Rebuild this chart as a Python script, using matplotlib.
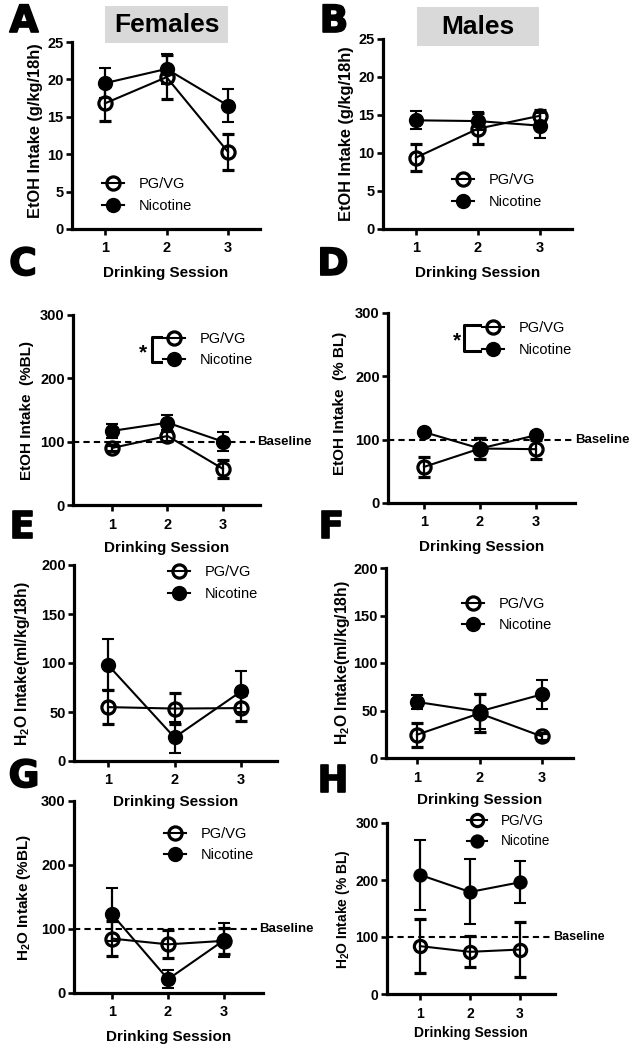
import matplotlib
matplotlib.use('Agg')
import matplotlib.pyplot as plt
from matplotlib.lines import Line2D
from matplotlib.patches import Rectangle
import matplotlib.patheffects as pe

plt.rcParams['font.family'] = ['Liberation Sans', 'DejaVu Sans']
plt.rcParams['mathtext.default'] = 'regular'

sessions = [1, 2, 3]
series_names = ['PG/VG', 'Nicotine']

# Panel A - Females EtOH g/kg/18h
a_pg = [16.8, 20.3, 10.3]
a_pg_sem = [2.3, 2.9, 2.4]
a_nic = [19.5, 21.4, 16.5]
a_nic_sem = [2.0, 2.0, 2.25]
# Panel B - Males EtOH g/kg/18h
b_pg = [9.4, 13.2, 14.9]
b_pg_sem = [1.8, 2.0, 0.8]
b_nic = [14.3, 14.2, 13.6]
b_nic_sem = [1.2, 1.2, 1.6]
# Panel C - Females EtOH %BL
c_pg = [90, 109, 57]
c_pg_sem = [5, 8, 14]
c_nic = [117, 130, 100]
c_nic_sem = [11, 12, 15]
# Panel D - Males EtOH %BL
d_pg = [57, 86, 85]
d_pg_sem = [16, 17, 15]
d_nic = [112, 86, 107]
d_nic_sem = [4, 17, 5]
# Panel E - Females H2O ml/kg/18h
e_pg = [55, 53.5, 54]
e_pg_sem = [17, 16, 13]
e_nic = [98, 24, 71]
e_nic_sem = [26, 16, 21]
# Panel F - Males H2O ml/kg/18h
f_pg = [24.5, 47, 22.7]
f_pg_sem = [12.5, 20, 4]
f_nic = [59, 49, 67]
f_nic_sem = [7, 18, 15]
# Panel G - Females H2O %BL
g_pg = [85, 76, 81.5]
g_pg_sem = [27, 22, 20]
g_nic = [123, 21.5, 82.5]
g_nic_sem = [41, 14, 27]
# Panel H - Males H2O %BL
h_pg = [84, 74, 78]
h_pg_sem = [48, 27, 49]
h_nic = [209, 179, 196]
h_nic_sem = [61, 57, 37]

baseline_value = 100

W, H = 639, 1050
fig = plt.figure(figsize=(W / 100, H / 100), dpi=100)


def fx(px):
    return px / W


def fy(py):
    return 1 - py / H


panels = [
    dict(letter='A', rect=(72, 42, 260, 229), xlim=(0.463, 3.52), ylim=(0, 25),
         yticks=[0, 5, 10, 15, 20, 25], ylabel='EtOH Intake (g/kg/18h)', ylab=(36, 131),
         xlab_y=273, data=(a_pg, a_pg_sem, a_nic, a_nic_sem), leg=(113, 195), lpos=(24, 22),
         baseline=None, star=None, tfs=10.5, xfs=11, yfs=11.8, lfs=10.5, ms=9.5),
    dict(letter='B', rect=(383, 39, 572, 229), xlim=(0.468, 3.516), ylim=(0, 25),
         yticks=[0, 5, 10, 15, 20, 25], ylabel='EtOH Intake (g/kg/18h)', ylab=(347, 134),
         xlab_y=273, data=(b_pg, b_pg_sem, b_nic, b_nic_sem), leg=(463, 191), lpos=(334, 22),
         baseline=None, star=None, tfs=10.5, xfs=11, yfs=11.8, lfs=10.5, ms=9.5),
    dict(letter='C', rect=(73, 315, 260, 505), xlim=(0.297, 3.667), ylim=(0, 300),
         yticks=[0, 100, 200, 300], ylabel='EtOH Intake  (%BL)', ylab=(27, 411),
         xlab_y=548, data=(c_pg, c_pg_sem, c_nic, c_nic_sem), leg=(174, 349.5), lpos=(23, 265),
         baseline=(255, 257), star=(143, 152, 337, 362), tfs=10.5, xfs=11, yfs=11, lfs=10.5, ms=9.5),
    dict(letter='D', rect=(388, 313, 575, 503), xlim=(0.357, 3.696), ylim=(0, 300),
         yticks=[0, 100, 200, 300], ylabel='EtOH Intake  (% BL)', ylab=(340, 403),
         xlab_y=547, data=(d_pg, d_pg_sem, d_nic, d_nic_sem), leg=(493, 339), lpos=(333, 265),
         baseline=(572, 575), star=(457, 464, 325, 351), tfs=10.5, xfs=11, yfs=11, lfs=10.5, ms=9.5),
    dict(letter='E', rect=(74, 565, 277, 761), xlim=(0.489, 3.541), ylim=(0, 200),
         yticks=[0, 50, 100, 150, 200], ylabel='H$_2$O Intake(ml/kg/18h)', ylab=(23, 664),
         xlab_y=802, data=(e_pg, e_pg_sem, e_nic, e_nic_sem), leg=(179, 583), lpos=(22, 528),
         baseline=None, star=None, tfs=10.5, xfs=11, yfs=11.3, lfs=10.5, ms=9.5),
    dict(letter='F', rect=(386, 568, 573, 758), xlim=(0.504, 3.496), ylim=(0, 200),
         yticks=[0, 50, 100, 150, 200], ylabel='H$_2$O Intake(ml/kg/18h)', ylab=(343, 663),
         xlab_y=800, data=(f_pg, f_pg_sem, f_nic, f_nic_sem), leg=(473, 614.5), lpos=(331, 528),
         baseline=None, star=None, tfs=10.5, xfs=11, yfs=11.3, lfs=10.5, ms=9.5),
    dict(letter='G', rect=(74, 801, 263, 993), xlim=(0.321, 3.696), ylim=(0, 300),
         yticks=[0, 100, 200, 300], ylabel='H$_2$O Intake (%BL)', ylab=(24, 897),
         xlab_y=1037, data=(g_pg, g_pg_sem, g_nic, g_nic_sem), leg=(175, 844.5), lpos=(24, 777),
         baseline=(257, 259), star=None, tfs=10.5, xfs=11, yfs=11, lfs=10.5, ms=9.5),
    dict(letter='H', rect=(387, 823, 555, 994), xlim=(0.34, 3.7), ylim=(0, 300),
         yticks=[0, 100, 200, 300], ylabel='H$_2$O Intake (% BL)', ylab=(343, 909),
         xlab_y=1033, data=(h_pg, h_pg_sem, h_nic, h_nic_sem), leg=(477, 831), lpos=(333, 782),
         baseline=(550, 553), star=None, tfs=10, xfs=10, yfs=10, lfs=9.8, ms=8.8),
]

for p in panels:
    l, t, r, b = p['rect']
    ax = fig.add_axes([fx(l), fy(b), (r - l) / W, (b - t) / H])
    ax.patch.set_visible(False)
    pg, pg_sem, nic, nic_sem = p['data']
    ms = p['ms']
    e1 = ax.errorbar(sessions, pg, yerr=pg_sem, color='black', lw=1.5, marker='o', ms=ms,
                     mfc='none', mec='black', mew=2.3, capsize=4.5, capthick=1.6,
                     elinewidth=1.6, zorder=3, clip_on=False)
    e2 = ax.errorbar(sessions, nic, yerr=nic_sem, color='black', lw=1.5, marker='o', ms=ms,
                     mfc='black', mec='black', mew=1.5, capsize=4.5, capthick=1.6,
                     elinewidth=1.6, zorder=4, clip_on=False)
    ax.set_xlim(*p['xlim'])
    ax.set_ylim(*p['ylim'])
    ax.set_xticks(sessions)
    ax.set_yticks(p['yticks'])
    for s in ['top', 'right']:
        ax.spines[s].set_visible(False)
    for s in ['left', 'bottom']:
        ax.spines[s].set_linewidth(2.3)
    ax.tick_params(axis='both', width=1.9, length=4.5, labelsize=p['tfs'])
    ax.tick_params(axis='x', pad=4.5)
    ax.tick_params(axis='y', pad=1.5)
    for lab in ax.get_xticklabels() + ax.get_yticklabels():
        lab.set_fontweight('bold')
    hpx = b - t
    wpx = r - l
    ax.set_xlabel('Drinking Session', fontsize=p['xfs'], fontweight='bold')
    ax.xaxis.set_label_coords(0.5, (b - p['xlab_y']) / hpx)
    ax.xaxis.label.set_va('center')
    ax.set_ylabel(p['ylabel'], fontsize=p['yfs'], fontweight='bold')
    ax.yaxis.set_label_coords((p['ylab'][0] - l) / wpx, (b - p['ylab'][1]) / hpx)
    ax.yaxis.label.set_va('center')

    if p['baseline'] is not None:
        xend, xtext = p['baseline']
        ax.axhline(baseline_value, xmin=0, xmax=(xend - l) / wpx, color='black', lw=1.5,
                   ls=(0, (3, 2)), zorder=1, clip_on=False)
        ax.text((xtext - l) / wpx, baseline_value, 'Baseline', transform=ax.get_yaxis_transform(),
                ha='left', va='center', fontsize=p['tfs'] - 1, fontweight='bold', clip_on=False)

    lfs = p['lfs']
    lfs_px = lfs * 100 / 72
    mx, my = p['leg']
    hl = 1.5
    ax.legend([e1[0], e2[0]], series_names, loc='center left',
              bbox_to_anchor=(fx(mx - hl * lfs_px / 2), fy(my)),
              bbox_transform=fig.transFigure, frameon=False, borderpad=0,
              borderaxespad=0, handlelength=hl, handletextpad=1.0,
              labelspacing=0.5, fontsize=lfs)

    if p['star'] is not None:
        sx, bx, ytop, ybot = p['star']
        arm = mx - hl * lfs_px / 2 - 2
        fig.add_artist(Line2D([fx(arm), fx(bx), fx(bx), fx(arm)],
                              [fy(ytop), fy(ytop), fy(ybot), fy(ybot)],
                              transform=fig.transFigure, color='black', lw=2.2))
        fig.text(fx(sx), fy((ytop + ybot) / 2 + 3), '*', ha='center', va='center',
                 fontsize=15, fontweight='bold')

    fig.text(fx(p['lpos'][0]), fy(p['lpos'][1]), p['letter'], ha='center', va='center',
             fontsize=27, fontweight='bold', family='DejaVu Sans',
             path_effects=[pe.withStroke(linewidth=1.2, foreground='black')])

# Sex titles in grey boxes
for (x0, y0, x1, y1, title) in [(105, 6, 228, 43, 'Females'), (417, 7, 539, 46, 'Males')]:
    fig.add_artist(Rectangle((fx(x0), fy(y1)), (x1 - x0) / W, (y1 - y0) / H,
                             transform=fig.transFigure, facecolor='#d9d9d9', edgecolor='none'))
    fig.text(fx((x0 + x1) / 2), fy((y0 + y1) / 2), title, ha='center', va='center',
             fontsize=19, fontweight='bold')

fig.savefig('out.png', dpi=100, facecolor='white')
